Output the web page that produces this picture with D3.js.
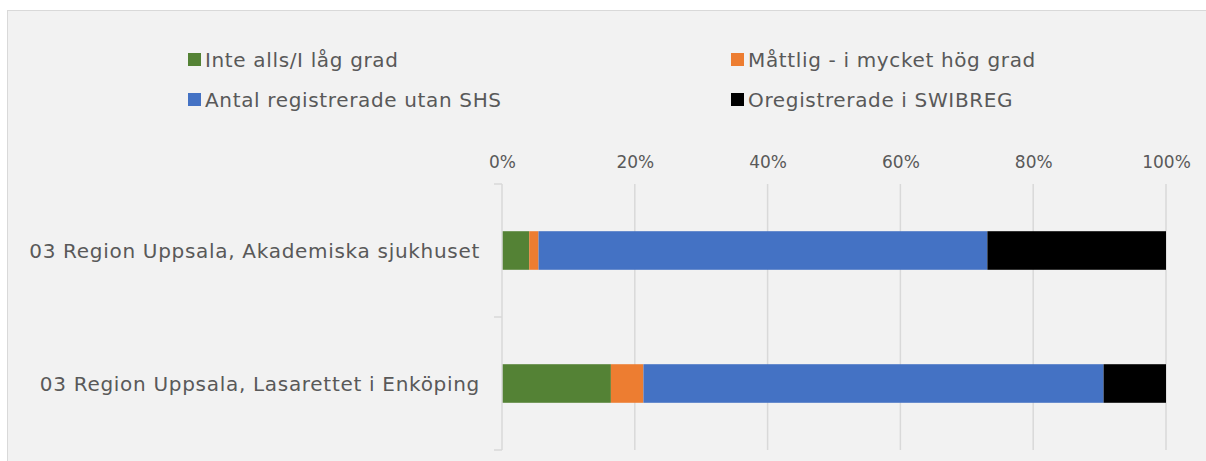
<!DOCTYPE html>
<html>
<head>
<meta charset="utf-8">
<script src="https://cdn.jsdelivr.net/npm/d3@7"></script>
<style>
body{margin:0;background:#fff;}
text{font-family:"DejaVu Sans",sans-serif;fill:#595959;}
</style>
</head>
<body>
<div id="chart"></div>
<script>
var categories=["03 Region Uppsala, Akademiska sjukhuset","03 Region Uppsala, Lasarettet i Enköping"];
var seriesNames=["Inte alls/I låg grad","Måttlig - i mycket hög grad","Antal registrerade utan SHS","Oregistrerade i SWIBREG"];
var seriesColors=["#548235","#ed7d31","#4472c4","#000000"];
var lowGrad=[4.1,16.4];
var highGrad=[1.4,4.9];
var utanSHS=[67.6,69.3];
var oregistrerade=[26.9,9.4];
var tickValues=[0,20,40,60,80,100];

var width=1206,height=461;
var margin={top:184,right:40,bottom:11,left:502};

var svg=d3.select("#chart").append("svg")
    .attr("width",width)
    .attr("height",height);

// chart background + border
svg.append("rect").attr("x",7.5).attr("y",10.5).attr("width",width).attr("height",height)
    .attr("fill","#f2f2f2").attr("stroke","#d9d9d9");

var x=d3.scaleLinear().domain([0,100]).range([margin.left,width-margin.right]);
var y=d3.scaleBand().domain(categories).range([margin.top,height-margin.bottom]).paddingInner(0.71).paddingOuter(0.355);

// gridlines
svg.append("g").selectAll("line").data(tickValues.slice(1)).enter().append("line")
    .attr("x1",d=>x(d)).attr("x2",d=>x(d))
    .attr("y1",margin.top).attr("y2",height-margin.bottom)
    .attr("stroke","#d9d9d9").attr("stroke-width",1.5);

// top axis labels
var xAxis=d3.axisTop(x).tickValues(tickValues).tickFormat(d=>d+"%").tickSize(0).tickPadding(0);
var gx=svg.append("g").attr("transform","translate(0,168)").call(xAxis);
gx.select(".domain").remove();
gx.selectAll("text").style("font-size","17px").attr("dy","0").attr("fill","#595959");

// stacked bars
var stackInput=categories.map(function(c,i){
    return {cat:c,s0:lowGrad[i],s1:highGrad[i],s2:utanSHS[i],s3:oregistrerade[i]};
});
var stack=d3.stack().keys(["s0","s1","s2","s3"]);
var layers=stack(stackInput);

svg.append("g").selectAll("g").data(layers).enter().append("g")
    .attr("fill",(d,i)=>seriesColors[i])
    .selectAll("rect").data(d=>d).enter().append("rect")
    .attr("x",d=>x(d[0]))
    .attr("width",d=>x(d[1])-x(d[0]))
    .attr("y",d=>y(d.data.cat))
    .attr("height",y.bandwidth());

// left axis line and category separators
var yTop=margin.top,yBot=height-margin.bottom,yMid=(yTop+yBot)/2;
svg.append("line").attr("x1",x(0)).attr("x2",x(0)).attr("y1",yTop).attr("y2",yBot)
    .attr("stroke","#d9d9d9").attr("stroke-width",1.5);
svg.append("g").selectAll("line").data([yTop,yMid,yBot]).enter().append("line")
    .attr("x1",x(0)-8).attr("x2",x(0)).attr("y1",d=>d).attr("y2",d=>d)
    .attr("stroke","#d9d9d9").attr("stroke-width",1.5);

// category labels
svg.append("g").selectAll("text").data(categories).enter().append("text")
    .attr("x",480)
    .attr("y",d=>y(d)+y.bandwidth()/2)
    .attr("dy","0.35em")
    .attr("text-anchor","end")
    .style("font-size","20px")
    .style("letter-spacing","0.7px")
    .text(d=>d);

// legend
var legendPos=[[188,53],[731,53],[188,93],[731,93]];
var legend=svg.append("g").selectAll("g").data(seriesNames).enter().append("g")
    .attr("transform",(d,i)=>"translate("+legendPos[i][0]+","+legendPos[i][1]+")");
legend.append("rect").attr("width",13).attr("height",13).attr("fill",(d,i)=>seriesColors[i]);
legend.append("text").attr("x",17).attr("y",14).style("font-size","20px").style("letter-spacing","0.65px").text(d=>d);
</script>
</body>
</html>
